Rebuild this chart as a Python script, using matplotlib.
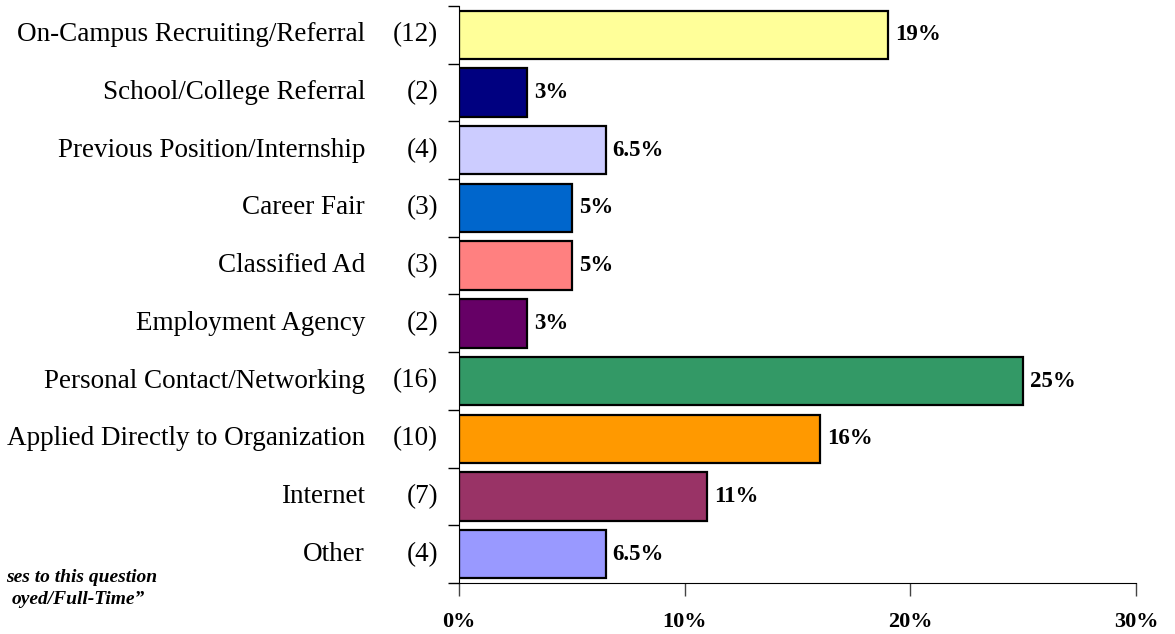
import matplotlib
matplotlib.use("Agg")
import matplotlib.pyplot as plt
import matplotlib.transforms as mtransforms

categories = ["On-Campus Recruiting/Referral", "School/College Referral",
              "Previous Position/Internship", "Career Fair", "Classified Ad",
              "Employment Agency", "Personal Contact/Networking",
              "Applied Directly to Organization", "Internet", "Other"]
counts = [12, 2, 4, 3, 3, 2, 16, 10, 7, 4]
percents = [19, 3, 6.5, 5, 5, 3, 25, 16, 11, 6.5]
value_labels = ["19%", "3%", "6.5%", "5%", "5%", "3%", "25%", "16%", "11%", "6.5%"]
colors = ["#FFFF99", "#000080", "#CCCCFF", "#0066CC", "#FF8080",
          "#660066", "#339966", "#FF9900", "#993366", "#9999FF"]
xticks = [0, 10, 20, 30]
xtick_labels = ["0%", "10%", "20%", "30%"]

plt.rcParams["font.family"] = ["Liberation Serif", "DejaVu Serif"]

fig = plt.figure(figsize=(11.75, 6.34), dpi=100)
ax = fig.add_axes([459/1175, 1-583/634, 677/1175, 577/634])

ypos = list(range(len(categories)))
ax.barh(ypos, percents, height=0.84, color=colors, edgecolor="black", linewidth=1.6)
ax.set_ylim(len(categories)-0.5, -0.5)
ax.set_xlim(0, 30)

for y, v, lab in zip(ypos, percents, value_labels):
    ax.annotate(lab, (v, y), xytext=(5, 0), textcoords="offset points",
                ha="left", va="center", fontsize=16.5, fontweight="bold")

trans = mtransforms.blended_transform_factory(ax.transAxes, ax.transData)
for y, cat, n in zip(ypos, categories, counts):
    ax.text(-0.139, y, cat, transform=trans, ha="right", va="center", fontsize=19.5)
    ax.text(-0.031, y, "(%d)" % n, transform=trans, ha="right", va="center", fontsize=19.5)

ax.set_yticks([])
ax.set_yticks([i - 0.5 for i in range(len(categories)+1)], minor=True)
ax.tick_params(axis="y", which="minor", length=8, width=1, direction="out")
ax.set_xticks(xticks)
ax.set_xticklabels(xtick_labels, fontsize=16, fontweight="bold")
ax.tick_params(axis="x", length=9, width=1, direction="out", pad=12, color="#444444")

ax.spines["top"].set_visible(False)
ax.spines["right"].set_visible(False)

fig.text(157/1175, 1-577/634, "ses to this question", ha="right", va="center",
         fontsize=14, fontweight="bold", style="italic")
fig.text(145/1175, 1-600/634, "oyed/Full-Time\u201d", ha="right", va="center",
         fontsize=14, fontweight="bold", style="italic")

fig.savefig("out.png", dpi=100)
